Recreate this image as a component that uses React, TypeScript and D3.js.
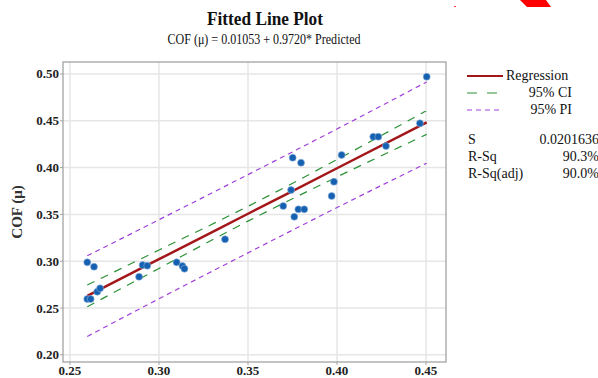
import { useEffect, useRef } from 'react';
import * as d3 from 'd3';

// observed points (Predicted, COF)
const predicted = [
  0.2597, 0.2635, 0.2597, 0.2616, 0.2653, 0.2669, 0.2888, 0.2908, 0.2934, 0.3099,
  0.3132, 0.3143, 0.3371, 0.3698, 0.3742, 0.3751, 0.3760, 0.3783, 0.3798, 0.3816,
  0.3970, 0.3983, 0.4026, 0.4204, 0.4232, 0.4275, 0.4466, 0.4504,
];
const cof = [
  0.2988, 0.2941, 0.2596, 0.2596, 0.2674, 0.2710, 0.2834, 0.2959, 0.2952, 0.2988,
  0.2949, 0.2920, 0.3234, 0.3590, 0.3761, 0.4106, 0.3475, 0.3554, 0.4052, 0.3554,
  0.3697, 0.3849, 0.4135, 0.4330, 0.4330, 0.4230, 0.4473, 0.4971,
];

// fitted line and intervals read at a few x positions
const bandX = [0.2597, 0.30, 0.35, 0.40, 0.4504];
const fitY = [0.2630, 0.3021, 0.3507, 0.3993, 0.4483];
const ciUpper = [0.2746, 0.3119, 0.3586, 0.4086, 0.4610];
const ciLower = [0.2514, 0.2923, 0.3428, 0.3900, 0.4355];
const piUpper = [0.3058, 0.3443, 0.3925, 0.4413, 0.4915];
const piLower = [0.2196, 0.2599, 0.3089, 0.3573, 0.4048];

const xTicks = [0.25, 0.30, 0.35, 0.40, 0.45];
const yTicks = [0.20, 0.25, 0.30, 0.35, 0.40, 0.45, 0.50];

const statLabels = ['S', 'R-Sq', 'R-Sq(adj)'];
const statValues = ['0.0201636', '90.3%', '90.0%'];

const SERIF = '"Liberation Serif", "Times New Roman", serif';

export default function App() {
  const svgRef = useRef<SVGSVGElement>(null);

  useEffect(() => {
    if (!svgRef.current) return;
    const svg = d3.select(svgRef.current);
    svg.selectAll('*').remove();

    const left = 63, right = 446, top = 62, bottom = 362;

    const xScale = d3.scaleLinear().domain([0.24607, 0.46124]).range([left, right]);
    const yScale = d3.scaleLinear().domain([0.19231, 0.51282]).range([bottom, top]);

    // red scrap in the corner
    svg.append('path')
      .attr('d', 'M520,0 L546,0 L551,7 L527,7 Z')
      .attr('fill', '#ff0000');
    svg.append('rect').attr('x', 454).attr('y', 6).attr('width', 2).attr('height', 1).attr('fill', '#ff4444');

    // title
    svg.append('text')
      .attr('x', 265).attr('y', 25)
      .attr('text-anchor', 'middle')
      .attr('font-family', SERIF).attr('font-weight', 'bold').attr('font-size', '19.5px')
      .attr('textLength', 116).attr('lengthAdjust', 'spacingAndGlyphs')
      .attr('fill', '#111')
      .text('Fitted Line Plot');
    svg.append('text')
      .attr('x', 264).attr('y', 43.5)
      .attr('text-anchor', 'middle')
      .attr('font-family', SERIF).attr('font-size', '14px')
      .attr('textLength', 193).attr('lengthAdjust', 'spacingAndGlyphs')
      .attr('fill', '#111')
      .text('COF (μ) = 0.01053 + 0.9720* Predicted');

    const plot = svg.append('g');

    // grid
    plot.selectAll('.gx').data(xTicks).enter().append('line')
      .attr('x1', d => xScale(d)).attr('x2', d => xScale(d))
      .attr('y1', top).attr('y2', bottom)
      .attr('stroke', '#e6e6e6').attr('stroke-width', 1.5);
    plot.selectAll('.gy').data(yTicks).enter().append('line')
      .attr('x1', left).attr('x2', right)
      .attr('y1', d => yScale(d)).attr('y2', d => yScale(d))
      .attr('stroke', '#e6e6e6').attr('stroke-width', 1.5);

    // frame
    plot.append('rect')
      .attr('x', left).attr('y', top)
      .attr('width', right - left).attr('height', bottom - top)
      .attr('fill', 'none').attr('stroke', '#a3a3a3').attr('stroke-width', 1.3);

    // ticks + labels
    plot.selectAll('.tx').data(xTicks).enter().append('line')
      .attr('x1', d => xScale(d)).attr('x2', d => xScale(d))
      .attr('y1', bottom).attr('y2', bottom + 3)
      .attr('stroke', '#a3a3a3');
    plot.selectAll('.lx').data(xTicks).enter().append('text')
      .attr('x', d => xScale(d)).attr('y', 375)
      .attr('text-anchor', 'middle')
      .attr('font-family', SERIF).attr('font-weight', 'bold').attr('font-size', '13px')
      .attr('fill', '#222')
      .text(d => d3.format('.2f')(d));
    plot.selectAll('.ty').data(yTicks).enter().append('line')
      .attr('x1', left - 3).attr('x2', left)
      .attr('y1', d => yScale(d)).attr('y2', d => yScale(d))
      .attr('stroke', '#a3a3a3');
    plot.selectAll('.ly').data(yTicks).enter().append('text')
      .attr('x', 59).attr('y', d => yScale(d) + 4.5)
      .attr('text-anchor', 'end')
      .attr('font-family', SERIF).attr('font-weight', 'bold').attr('font-size', '13px')
      .attr('fill', '#222')
      .text(d => d3.format('.2f')(d));

    svg.append('text')
      .attr('transform', 'rotate(-90)')
      .attr('x', -212).attr('y', 22)
      .attr('text-anchor', 'middle')
      .attr('font-family', SERIF).attr('font-weight', 'bold').attr('font-size', '15px')
      .attr('fill', '#333')
      .text('COF (μ)');

    const idx = d3.range(bandX.length);
    const mkLine = (vals: number[]) => d3.line<number>()
      .x(i => xScale(bandX[i]))
      .y(i => yScale(vals[i]))
      .curve(d3.curveMonotoneX)(idx);

    // prediction interval
    [piUpper, piLower].forEach(vals => {
      plot.append('path')
        .attr('d', mkLine(vals))
        .attr('fill', 'none').attr('stroke', '#a040d8').attr('stroke-width', 1.2)
        .attr('stroke-dasharray', '5,4');
    });
    // confidence interval
    [ciUpper, ciLower].forEach(vals => {
      plot.append('path')
        .attr('d', mkLine(vals))
        .attr('fill', 'none').attr('stroke', '#2a9236').attr('stroke-width', 1.2)
        .attr('stroke-dasharray', '8,7');
    });
    // regression
    plot.append('path')
      .attr('d', mkLine(fitY))
      .attr('fill', 'none').attr('stroke', '#a3161a').attr('stroke-width', 2.5);

    // points
    plot.selectAll('.pt').data(predicted).enter().append('circle')
      .attr('cx', d => xScale(d))
      .attr('cy', (_, i) => yScale(cof[i]))
      .attr('r', 3.5)
      .attr('fill', '#1560b0')
      .attr('stroke', '#8fb4dc').attr('stroke-width', 0.6);

    // legend
    const lg = svg.append('g').attr('font-family', SERIF).attr('font-size', '14px').attr('fill', '#111');
    lg.append('line').attr('x1', 467).attr('x2', 503).attr('y1', 76).attr('y2', 76)
      .attr('stroke', '#a3161a').attr('stroke-width', 2);
    lg.append('text').attr('x', 506).attr('y', 80).text('Regression');
    lg.append('line').attr('x1', 467).attr('x2', 497).attr('y1', 93).attr('y2', 93)
      .attr('stroke', '#2a9236').attr('stroke-width', 1.2).attr('stroke-dasharray', '10,10');
    lg.append('text').attr('x', 572).attr('y', 97).attr('text-anchor', 'end').text('95% CI');
    lg.append('line').attr('x1', 467).attr('x2', 501).attr('y1', 110).attr('y2', 110)
      .attr('stroke', '#a040d8').attr('stroke-width', 1.2).attr('stroke-dasharray', '5,4');
    lg.append('text').attr('x', 572).attr('y', 114).attr('text-anchor', 'end').text('95% PI');

    statLabels.forEach((s, i) => {
      lg.append('text').attr('x', 468).attr('y', 144 + i * 17).text(s);
      lg.append('text').attr('x', 599).attr('y', 144 + i * 17).attr('text-anchor', 'end').text(statValues[i]);
    });
  }, []);

  return (
    <svg
      ref={svgRef}
      width={598}
      height={378}
      style={{ position: 'absolute', left: 0, top: 0, background: '#fff' }}
    />
  );
}
